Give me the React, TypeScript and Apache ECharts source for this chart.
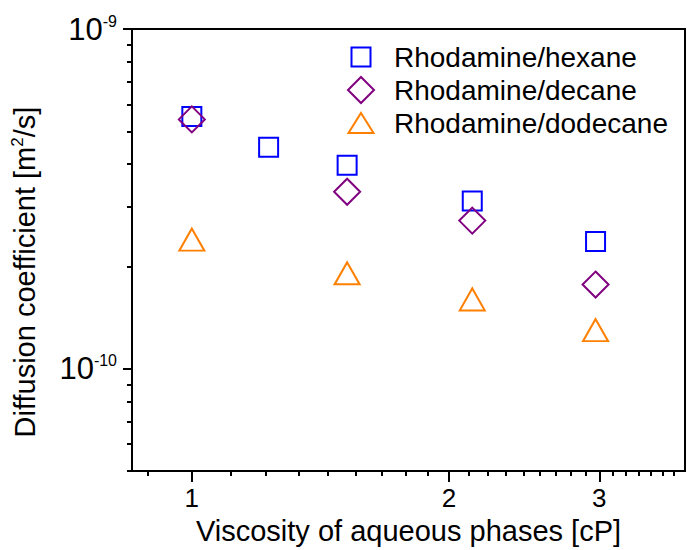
import React, { useEffect, useRef } from "react";
import * as echarts from "echarts";

const FONT = '"Liberation Sans", Arial, sans-serif';

// Viscosity of aqueous phases [cP]
const viscHexane = [1.0, 1.23, 1.52, 2.13, 2.97];
const viscOther = [1.0, 1.52, 2.13, 2.97];
// Diffusion coefficients [m^2/s]
const dHexane = [5.53e-10, 4.49e-10, 3.97e-10, 3.12e-10, 2.37e-10];
const dDecane = [5.42e-10, 3.32e-10, 2.73e-10, 1.77e-10];
const dDodecane = [2.4e-10, 1.91e-10, 1.6e-10, 1.3e-10];

const seriesNames = ["Rhodamine/hexane", "Rhodamine/decane", "Rhodamine/dodecane"];

const xMajorTicks = [1, 2, 3];
const xMinorTicks = [
  0.889, 1.111, 1.222, 1.333, 1.444, 1.556, 1.667, 1.778, 1.889,
  2.111, 2.222, 2.333, 2.444, 2.556, 2.667, 2.778, 2.889,
  3.111, 3.222, 3.333, 3.444, 3.556, 3.667,
];
const yMajorTicks = [1e-10, 1e-9];
const yMinorTicks = [
  5e-11, 6e-11, 7e-11, 8e-11, 9e-11,
  2e-10, 3e-10, 4e-10, 5e-10, 6e-10, 7e-10, 8e-10, 9e-10,
];

const X_MIN = 0.851;
const X_MAX = 3.78;
const Y_MIN = 5e-11;
const Y_MAX = 1e-9;

const zip = (xs: number[], ys: number[]) => ys.map((y, i) => [xs[i], y]);

export default function App() {
  const ref = useRef<HTMLDivElement>(null);
  useEffect(() => {
    if (!ref.current) return;
    const chart = echarts.init(ref.current, undefined, { renderer: "svg" });
    const black = "#000";
    const tickStyle = { color: black, width: 2 };
    const option: any = {
      animation: false,
      textStyle: { fontFamily: FONT },
      grid: {
        left: 132,
        right: 2,
        top: 29,
        bottom: 76,
        show: true,
        borderColor: black,
        borderWidth: 2,
        backgroundColor: "transparent",
      },
      legend: {
        orient: "vertical",
        left: 342,
        top: 38,
        itemWidth: 56,
        itemHeight: 26,
        itemGap: 5,
        selectedMode: false,
        textStyle: { fontSize: 28, lineHeight: 26, color: black, fontFamily: FONT },
        data: [
          { name: seriesNames[0], icon: "path://M0,0M26,26M3.5,3.5L22.5,3.5L22.5,22.5L3.5,22.5Z" },
          { name: seriesNames[1], icon: "path://M0,0M26,26M13,0L26,13L13,26L0,13Z" },
          { name: seriesNames[2], icon: "path://M0,0M26,26M13,3L25.5,23L0.5,23Z" },
        ],
      },
      xAxis: [
        {
          type: "log",
          logBase: 10,
          min: X_MIN,
          max: X_MAX,
          position: "bottom",
          axisLine: { show: true, lineStyle: tickStyle },
          axisTick: { show: true, inside: false, length: 11, lineStyle: tickStyle, customValues: xMajorTicks },
          axisLabel: {
            customValues: xMajorTicks,
            fontSize: 26,
            color: black,
            margin: 14,
            fontFamily: FONT,
            formatter: (v: number) => String(Math.round(v * 100) / 100),
          },
          splitLine: { show: false },
          minorSplitLine: { show: false },
          name: "Viscosity of aqueous phases [cP]",
          nameLocation: "middle",
          nameGap: 43,
          nameTextStyle: { fontSize: 29, color: black, fontFamily: FONT },
        },
        {
          type: "log",
          logBase: 10,
          min: X_MIN,
          max: X_MAX,
          position: "bottom",
          axisLine: { show: false },
          axisTick: { show: true, inside: false, length: 5, lineStyle: tickStyle, customValues: xMinorTicks },
          axisLabel: { show: false, customValues: [] },
          splitLine: { show: false },
        },
      ],
      yAxis: [
        {
          type: "log",
          logBase: 10,
          min: Y_MIN,
          max: Y_MAX,
          position: "left",
          axisLine: { show: true, lineStyle: tickStyle },
          axisTick: { show: true, inside: false, length: 9, lineStyle: tickStyle, customValues: yMajorTicks },
          axisLabel: {
            customValues: yMajorTicks,
            margin: 15,
            fontSize: 31,
            color: black,
            fontFamily: FONT,
            formatter: (v: number) => `{b|10}{s|${Math.round(Math.log10(v))}}`,
            rich: {
              b: { fontSize: 31, color: black, fontFamily: FONT, lineHeight: 32 },
              s: { fontSize: 16, color: black, fontFamily: FONT, verticalAlign: "top", lineHeight: 32, padding: [0, 0, 14, 0] },
            },
          },
          splitLine: { show: false },
          name: "Diffusion coefficient [m{s|2}/s]",
          nameLocation: "middle",
          nameGap: 92,
          nameTextStyle: {
            fontSize: 29,
            color: black,
            fontFamily: FONT,
            padding: [0, 44, 0, 0],
            rich: {
              s: { fontSize: 17, color: black, fontFamily: FONT, padding: [0, 0, 14, 0] },
            },
          },
        },
        {
          type: "log",
          logBase: 10,
          min: Y_MIN,
          max: Y_MAX,
          position: "left",
          axisLine: { show: false },
          axisTick: { show: true, inside: false, length: 5, lineStyle: tickStyle, customValues: yMinorTicks },
          axisLabel: { show: false, customValues: [] },
          splitLine: { show: false },
        },
      ],
      series: [
        {
          name: seriesNames[0],
          type: "scatter",
          xAxisIndex: 0,
          yAxisIndex: 0,
          symbol: "rect",
          symbolSize: [19, 19],
          itemStyle: { color: "transparent", borderColor: "#0000ff", borderWidth: 2, opacity: 1 },
          data: zip(viscHexane, dHexane),
          z: 2,
        },
        {
          name: seriesNames[1],
          type: "scatter",
          xAxisIndex: 0,
          yAxisIndex: 0,
          symbol: "diamond",
          symbolSize: [26, 26],
          itemStyle: { color: "transparent", borderColor: "#800080", borderWidth: 2, opacity: 1 },
          data: zip(viscOther, dDecane),
          z: 3,
        },
        {
          name: seriesNames[2],
          type: "scatter",
          xAxisIndex: 0,
          yAxisIndex: 0,
          symbol: "triangle",
          symbolSize: [25, 22],
          itemStyle: { color: "transparent", borderColor: "#ff8000", borderWidth: 2, opacity: 1 },
          data: zip(viscOther, dDodecane),
          z: 4,
        },
      ],
    };
    chart.setOption(option);
    return () => chart.dispose();
  }, []);
  return (
    <div
      ref={ref}
      style={{ position: "fixed", left: 0, top: 0, width: 687, height: 550, background: "#fff" }}
    />
  );
}
